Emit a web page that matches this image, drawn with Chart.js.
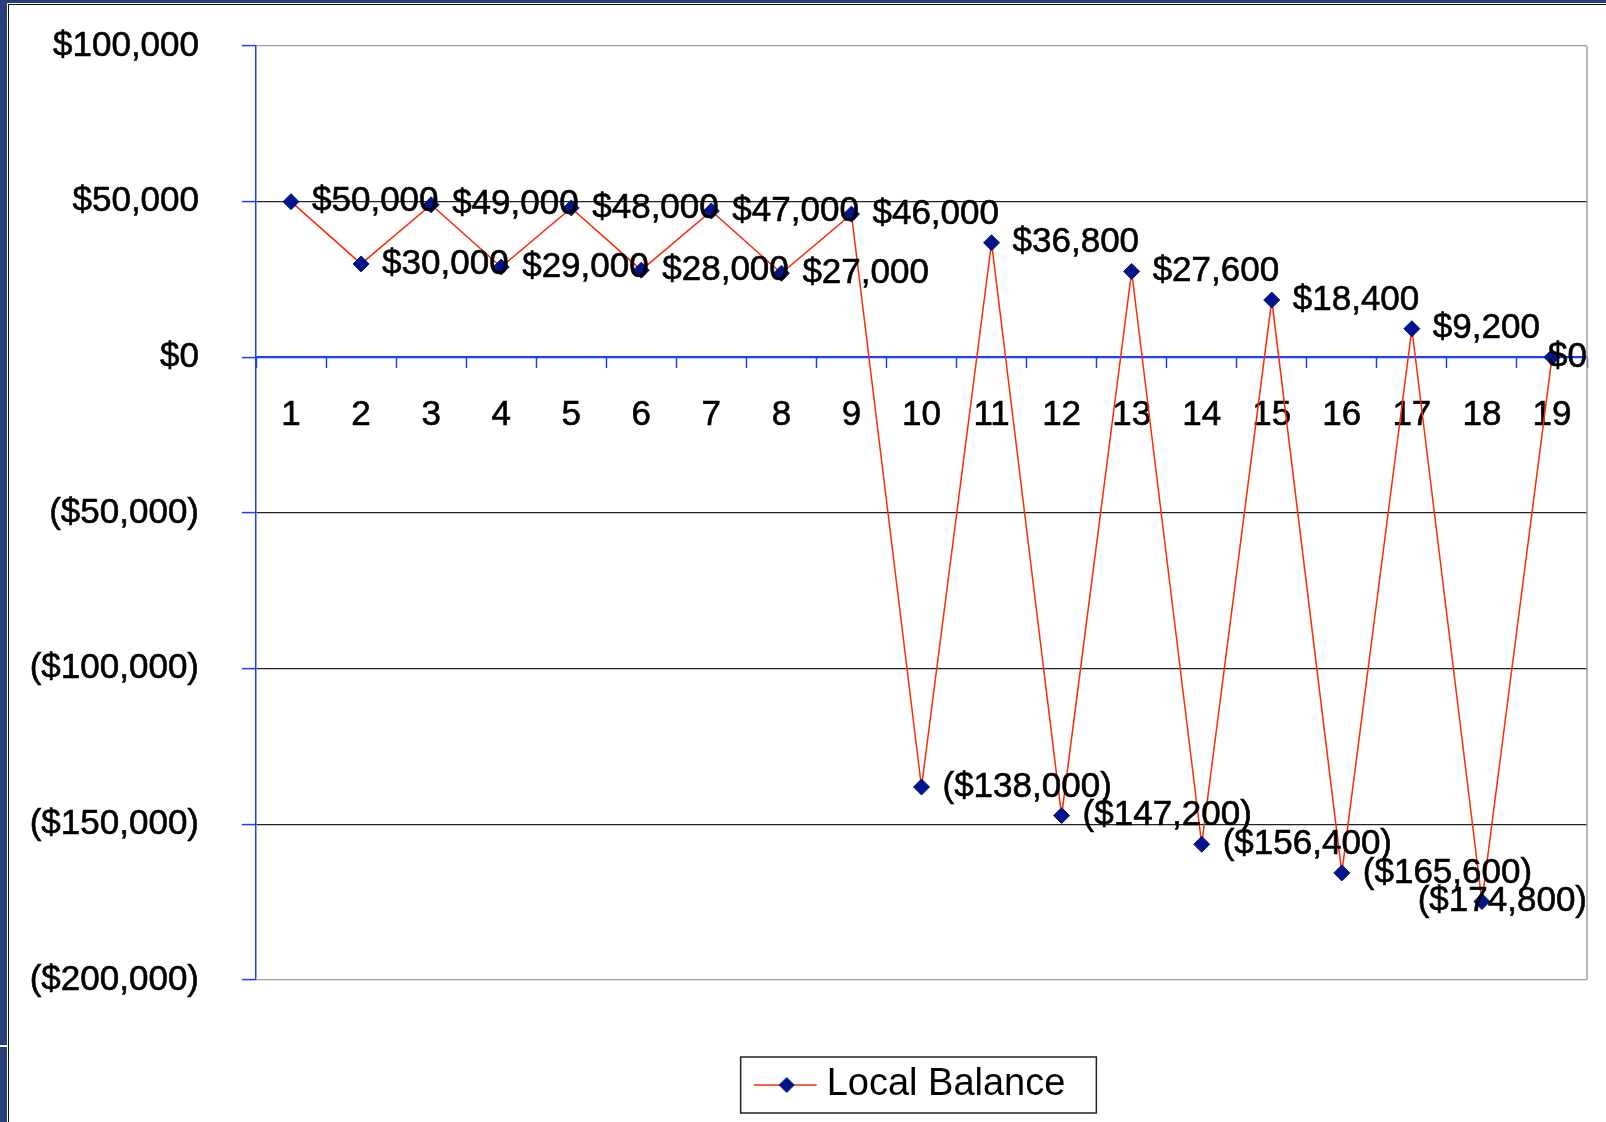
<!DOCTYPE html>
<html>
<head>
<meta charset="utf-8">
<title>Local Balance</title>
<script src="https://cdn.jsdelivr.net/npm/chart.js@4.4.1/dist/chart.umd.min.js"></script>
<style>
    html, body { margin: 0; padding: 0; background: #fff; }
    #wrap { position: relative; width: 1606px; height: 1122px; overflow: hidden; }
    #balanceChart { position: absolute; left: 0; top: 0; }
    .frame { position: absolute; }
</style>
</head>
<body>
<div id="wrap">
    <canvas id="balanceChart" width="1606" height="1122"></canvas>
    <!-- 스크린샷 테두리 -->
    <div class="frame" style="left:0;top:0;width:7px;height:1122px;background:#283f7c"></div>
    <div class="frame" style="left:0;top:1045px;width:7px;height:2px;background:#fff"></div>
    <div class="frame" style="left:0;top:0;width:1606px;height:3px;background:#283f7c"></div>
    <div class="frame" style="left:8px;top:4px;width:1598px;height:1px;background:#111"></div>
    <div class="frame" style="left:8px;top:4px;width:1px;height:1118px;background:#111"></div>
</div>
<script>
    // 데이터
    const periods = ['1', '2', '3', '4', '5', '6', '7', '8', '9', '10',
        '11', '12', '13', '14', '15', '16', '17', '18', '19'];
    const localBalance = [50000, 30000, 49000, 29000, 48000, 28000, 47000, 27000, 46000,
        -138000, 36800, -147200, 27600, -156400, 18400, -165600, 9200, -174800, 0];
    const yTicks = [-200000, -150000, -100000, -50000, 0, 50000, 100000];

    const FONT = '"Liberation Sans", Arial, sans-serif';
    const AXIS_BLUE = '#1f3fff';
    const LINE_RED = '#ff2a00';
    const NAVY = '#00148c';

    function money(v) {
        const s = '$' + Math.abs(v).toLocaleString('en-US');
        return v < 0 ? '(' + s + ')' : s;
    }

    // 범례 아이콘 (선 + 마름모, 오른쪽은 빈 여백)
    const legendIcon = document.createElement('canvas');
    legendIcon.width = 78;
    legendIcon.height = 20;
    (function () {
        const c = legendIcon.getContext('2d');
        c.strokeStyle = LINE_RED;
        c.lineWidth = 1.5;
        c.beginPath();
        c.moveTo(0, 10);
        c.lineTo(63, 10);
        c.stroke();
        c.fillStyle = NAVY;
        c.beginPath();
        c.moveTo(33, 2);
        c.lineTo(41, 10);
        c.lineTo(33, 18);
        c.lineTo(25, 10);
        c.closePath();
        c.fill();
    })();

    // 포인트 값 라벨
    const pointLabels = {
        id: 'pointLabels',
        afterDatasetsDraw(chart) {
            const {ctx, chartArea} = chart;
            const meta = chart.getDatasetMeta(0);
            ctx.save();
            ctx.font = '35px ' + FONT;
            ctx.fillStyle = '#000';
            ctx.strokeStyle = '#000';
            ctx.lineWidth = 0.6;
            ctx.textBaseline = 'middle';
            ctx.textAlign = 'left';
            meta.data.forEach(function (pt, i) {
                const text = money(localBalance[i]);
                const w = ctx.measureText(text).width;
                let x = pt.x + 21;
                if (x + w > chartArea.right) x = chartArea.right - w;
                ctx.fillText(text, x, pt.y);
                ctx.strokeText(text, x, pt.y);
            });
            ctx.restore();
        }
    };

    // 플롯 영역 오른쪽 테두리 + 범례 박스
    const frameLines = {
        id: 'frameLines',
        beforeDatasetsDraw(chart) {
            const {ctx, chartArea} = chart;
            ctx.save();
            ctx.strokeStyle = '#a0a0a0';
            ctx.lineWidth = 1.5;
            ctx.beginPath();
            ctx.moveTo(chartArea.right, chartArea.top);
            ctx.lineTo(chartArea.right, chartArea.bottom);
            ctx.stroke();
            ctx.restore();
        },
        afterDraw(chart) {
            const box = chart.legend.legendHitBoxes[0];
            if (!box) return;
            const ctx = chart.ctx;
            ctx.save();
            ctx.strokeStyle = '#222';
            ctx.lineWidth = 1.5;
            ctx.strokeRect(box.left - 37, box.top - 9, box.width + 68, 56);
            ctx.restore();
        }
    };

    const ctx = document.getElementById('balanceChart').getContext('2d');
    new Chart(ctx, {
        type: 'line',
        data: {
            labels: periods,
            datasets: [{
                label: 'Local Balance',
                data: localBalance,
                borderColor: LINE_RED,
                borderWidth: 1.5,
                tension: 0,
                pointStyle: 'rectRot',
                pointRadius: 8,
                pointBackgroundColor: NAVY,
                pointBorderColor: NAVY,
                pointBorderWidth: 1
            }]
        },
        plugins: [frameLines, pointLabels],
        options: {
            responsive: false,
            animation: false,
            layout: {padding: {left: 0, top: 46, right: 19, bottom: 8}},
            plugins: {
                tooltip: {enabled: false},
                legend: {
                    position: 'bottom',
                    fullSize: false,
                    align: 'center',
                    labels: {
                        usePointStyle: true,
                        pointStyleWidth: 30,
                        padding: 86,
                        color: '#000',
                        font: {size: 38, family: FONT},
                        generateLabels: function () {
                            return [{
                                text: 'Local Balance',
                                pointStyle: legendIcon,
                                fillStyle: NAVY,
                                strokeStyle: NAVY,
                                lineWidth: 0,
                                hidden: false,
                                datasetIndex: 0
                            }];
                        }
                    }
                }
            },
            scales: {
                x: {
                    type: 'category',
                    position: {y: 0},
                    offset: true,
                    afterFit: function (scale) {
                        scale.height = 0;
                    },
                    grid: {
                        offset: true,
                        drawOnChartArea: false,
                        tickLength: 10,
                        tickColor: AXIS_BLUE,
                        tickWidth: 1.5
                    },
                    border: {color: AXIS_BLUE, width: 2},
                    ticks: {
                        color: '#000',
                        font: {size: 35, family: FONT},
                        textStrokeColor: '#000',
                        textStrokeWidth: 0.6,
                        padding: 27,
                        autoSkip: false,
                        maxRotation: 0
                    }
                },
                y: {
                    min: yTicks[0],
                    max: yTicks[yTicks.length - 1],
                    afterBuildTicks: function (scale) {
                        scale.ticks = yTicks.map(function (v) { return {value: v}; });
                    },
                    afterFit: function (scale) {
                        scale.width = 256;
                        scale.paddingTop = 0;
                        scale.paddingBottom = 0;
                    },
                    grid: {
                        color: function (c) {
                            const v = c.tick ? c.tick.value : null;
                            if (v === 0) return AXIS_BLUE;
                            if (v === yTicks[0] || v === yTicks[yTicks.length - 1]) return '#a0a0a0';
                            return '#222';
                        },
                        lineWidth: 1.2,
                        tickLength: 14,
                        tickColor: AXIS_BLUE,
                        tickWidth: 1.5
                    },
                    border: {color: AXIS_BLUE, width: 1.5},
                    ticks: {
                        color: '#000',
                        font: {size: 35, family: FONT},
                        textStrokeColor: '#000',
                        textStrokeWidth: 0.6,
                        padding: 43,
                        callback: function (v) { return money(v); }
                    }
                }
            }
        }
    });
</script>
</body>
</html>
